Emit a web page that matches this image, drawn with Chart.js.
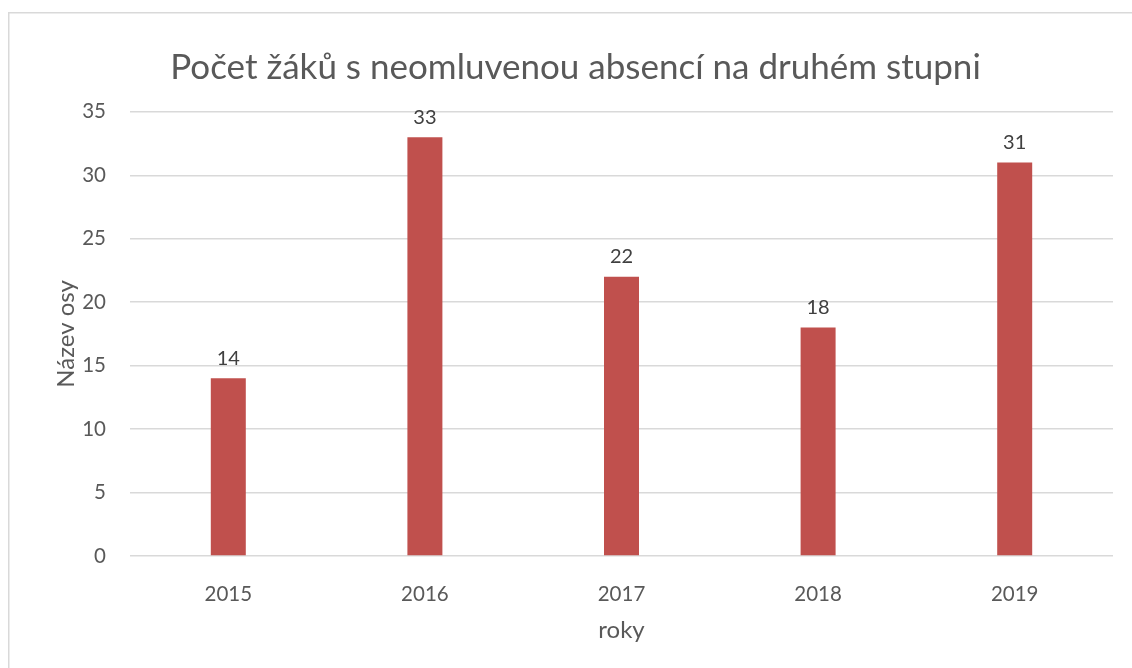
<!DOCTYPE html>
<html>
<head>
<meta charset="utf-8">
<script src="https://cdn.jsdelivr.net/npm/chart.js@4/dist/chart.umd.min.js"></script>
<style>
html,body{margin:0;padding:0;background:#fff;}
#wrap{position:relative;width:1132px;height:668px;}
</style>
</head>
<body>
<div id="wrap"><canvas id="c" width="1132" height="668"></canvas></div>
<script>
const categories = ['2015', '2016', '2017', '2018', '2019'];
const values = [14, 33, 22, 18, 31];
const titleText = 'Počet žáků s neomluvenou absencí na druhém stupni';
const yTitle = 'Název osy';
const xTitle = 'roky';

const FONT = 'Lato, "Open Sans", sans-serif';
const TXT = '#595959';

const frame = {
  id: 'frame',
  beforeDraw(chart) {
    const ctx = chart.ctx;
    ctx.save();
    ctx.fillStyle = '#fff';
    ctx.fillRect(0, 0, chart.width, chart.height);
    ctx.strokeStyle = '#D9D9D9';
    ctx.lineWidth = 1.5;
    ctx.strokeRect(8.75, 12.75, chart.width + 20, chart.height + 20);
    ctx.restore();
  }
};

const labels = {
  id: 'valueLabels',
  afterDatasetsDraw(chart) {
    const ctx = chart.ctx;
    const meta = chart.getDatasetMeta(0);
    ctx.save();
    ctx.font = '20px ' + FONT;
    ctx.fillStyle = '#404040';
    ctx.textAlign = 'center';
    ctx.textBaseline = 'middle';
    meta.data.forEach((bar, i) => {
      ctx.fillText(String(values[i]), bar.x, bar.y - 20);
    });
    ctx.restore();
  }
};

new Chart(document.getElementById('c'), {
  type: 'bar',
  data: {
    labels: categories,
    datasets: [{
      data: values,
      backgroundColor: '#C0504D',
      borderWidth: 0,
      barPercentage: 1,
      categoryPercentage: 0.178
    }]
  },
  options: {
    responsive: false,
    animation: false,
    devicePixelRatio: 1,
    layout: { padding: { left: 38, right: 19, top: 0, bottom: 0 } },
    plugins: {
      legend: { display: false },
      tooltip: { enabled: false },
      title: {
        display: true,
        text: titleText,
        color: TXT,
        font: { family: FONT, size: 35, weight: 'normal' },
        padding: { top: 46.4, bottom: 23.4 }
      }
    },
    scales: {
      x: {
        grid: { display: false, drawTicks: false },
        border: { display: false },
        ticks: { color: TXT, font: { family: FONT, size: 20.5 }, padding: 26 },
        title: { display: true, text: xTitle, color: TXT, font: { family: FONT, size: 24 }, padding: { top: 0, bottom: 23.6 } },
        afterFit(s) { s.height = 112; }
      },
      y: {
        min: 0, max: 35,
        ticks: { stepSize: 5, color: TXT, font: { family: FONT, size: 20.5 }, padding: 24 },
        grid: { color: '#D9D9D9', lineWidth: 1.5, drawTicks: false },
        border: { display: false },
        title: { display: true, text: yTitle, color: TXT, font: { family: FONT, size: 24 }, padding: { top: 13.6, bottom: 0 } },
        afterFit(s) { s.width = 92; }
      }
    }
  },
  plugins: [frame, labels]
});
</script>
</body>
</html>
